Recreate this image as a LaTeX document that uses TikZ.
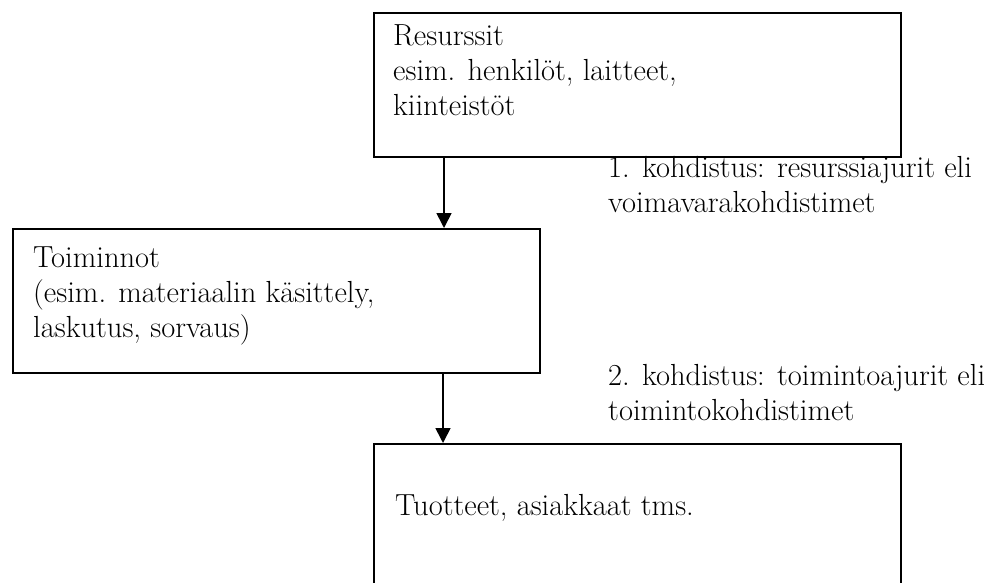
\documentclass[tikz,border=0pt]{standalone}
\usepackage{fontspec}
\setmainfont{Latin Modern Roman}
\usetikzlibrary{arrows.meta}
\begin{document}
\begin{tikzpicture}[x=1pt,y=-1pt,
  box/.style={draw, line width=1.6pt, anchor=north west, inner sep=0pt,
    minimum width=527, minimum height=144},
  txt/.style={anchor=base west, inner sep=0pt, align=left,
    font=\fontsize{30.5}{35}\selectfont},
  flow/.style={line width=1.6pt, -{Triangle[width=15pt,length=15pt]}}]
  \useasboundingbox (0,0) rectangle (984,582);

  % the three boxes
  \node[box] (res) at (373,12) {};
  \node[box] (act) at (12,228) {};
  \node[box] (prod) at (373,443) {};

  % box contents (base anchor sits on the last line)
  \node[txt] (restext) at (393,115) {Resurssit\\esim. henkilöt, laitteet,\\kiinteistöt};
  \node[txt] (acttext) at (33,337) {Toiminnot\\(esim. materiaalin käsittely,\\laskutus, sorvaus)};
  \node[txt] (prodtext) at (395,515) {Tuotteet, asiakkaat tms.};

  % allocation labels
  \node[txt] (lab1) at (608,212) {1. kohdistus: resurssiajurit eli\\voimavarakohdistimet};
  \node[txt] (lab2) at (608,420) {2. kohdistus: toimintoajurit eli\\toimintokohdistimet};

  % arrows between the boxes
  \coordinate (a1) at (444,0);
  \coordinate (a2) at (443,0);
  \draw[flow] (res.south -| a1) -- (act.north -| a1);
  \draw[flow] (act.south -| a2) -- (prod.north -| a2);
\end{tikzpicture}
\end{document}
